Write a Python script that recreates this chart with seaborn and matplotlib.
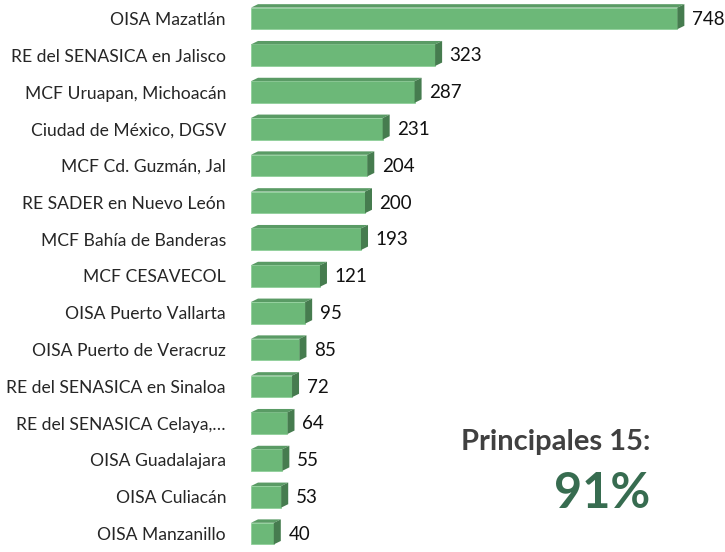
import matplotlib
matplotlib.use("Agg")
import matplotlib.pyplot as plt
import seaborn as sns
from matplotlib.patches import Polygon

categories = ["OISA Mazatlán", "RE del SENASICA en Jalisco", "MCF Uruapan, Michoacán",
              "Ciudad de México, DGSV", "MCF Cd. Guzmán, Jal", "RE SADER en Nuevo León",
              "MCF Bahía de Banderas", "MCF CESAVECOL", "OISA Puerto Vallarta",
              "OISA Puerto de Veracruz", "RE del SENASICA en Sinaloa", "RE del SENASICA Celaya,…",
              "OISA Guadalajara", "OISA Culiacán", "OISA Manzanillo"]
values = [748, 323, 287, 231, 204, 200, 193, 121, 95, 85, 72, 64, 55, 53, 40]
summary_label = "Principales 15:"
summary_value = "91%"

sns.set_style("white")
plt.rcParams['font.family'] = ['Lato', 'DejaVu Sans']

W, H = 725, 552
fig = plt.figure(figsize=(W/100, H/100), dpi=100)
left_px = 251
ax = fig.add_axes([left_px/W, 0, (W-left_px)/W, 1])
px_per_unit = 0.57
ax.set_xlim(0, (W-left_px)/px_per_unit)
pitch = 37.5
ax.set_ylim(14 + 13/pitch, -14/pitch)

front = "#6cb878"
topc = "#5a9b65"
sidec = "#467c4f"
bw = 22/pitch
sns.barplot(x=values, y=categories, orient="h", color=front, width=bw, ax=ax,
            saturation=1, edgecolor="#8fd09a", linewidth=0.6)

dx = 7/px_per_unit
dy = 3.5/pitch
for p, v in zip(ax.patches, values):
    y0 = p.get_y()
    y1 = y0 + p.get_height()
    x1 = p.get_x() + p.get_width()
    ax.add_patch(Polygon([(0, y0), (x1, y0), (x1+dx, y0-dy), (dx, y0-dy)],
                         closed=True, facecolor=topc, edgecolor="none", zorder=3))
    ax.add_patch(Polygon([(x1, y0), (x1+dx, y0-dy), (x1+dx, y1-dy), (x1, y1)],
                         closed=True, facecolor=sidec, edgecolor="none", zorder=3))
    ax.text(x1 + dx + 7.5/px_per_unit, (y0+y1)/2 + 0.02, f"{v}", va="center", ha="left",
            fontsize=13.5, color="#111111")

ax.set_xlabel("")
ax.set_ylabel("")
ax.set_xticks([])
ax.tick_params(axis="y", length=0, pad=18, labelsize=12.6)
for s in ax.spines.values():
    s.set_visible(False)
ax.patch.set_alpha(0)

fig.text(650/W, 1-442/H, summary_label, ha="right", va="center", fontsize=21,
         fontweight="bold", color="#404040")
fig.text(650/W, 1-494/H, summary_value, ha="right", va="center", fontsize=35,
         fontweight="bold", color="#376c50")

fig.savefig("out.png", dpi=100)
